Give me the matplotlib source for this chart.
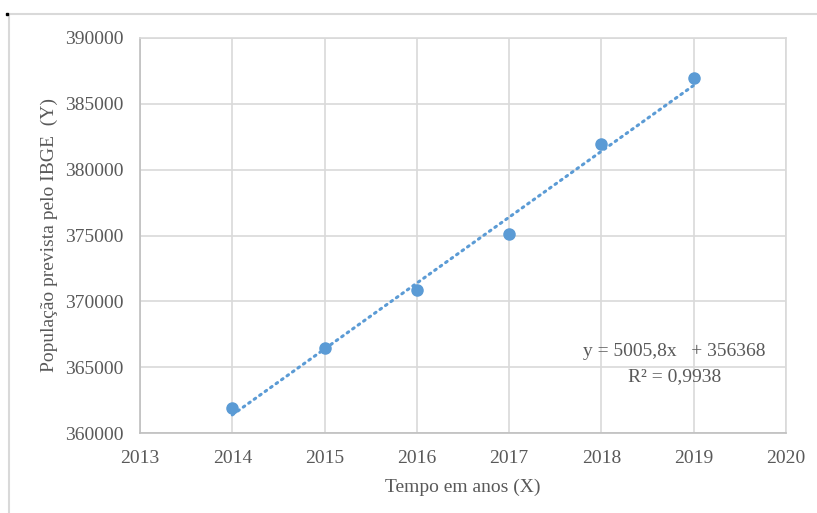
import matplotlib.pyplot as plt
from matplotlib.lines import Line2D

# dados
anos = [2014, 2015, 2016, 2017, 2018, 2019]
populacao = [361900, 366450, 370850, 375100, 381950, 386950]
x_ticks = [2013, 2014, 2015, 2016, 2017, 2018, 2019, 2020]
y_ticks = [360000, 365000, 370000, 375000, 380000, 385000, 390000]
# linha de tendência (x = 1..6)
coef_a = 5005.8
coef_b = 356368
texto_eq = "y = 5005,8x   + 356368"
texto_r2 = "R² = 0,9938"

azul = '#5b9bd5'
cinza_txt = '#595959'
cinza_grade = '#d9d9d9'

plt.rcParams['font.family'] = ['Liberation Serif', 'DejaVu Serif']

fig = plt.figure(figsize=(8.17, 5.13), dpi=100)
ax = fig.add_axes([140 / 817, 1 - 433 / 513, (786 - 140) / 817, (433 - 38) / 513])

# tendência
idx = range(1, len(anos) + 1)
tend = [coef_a * i + coef_b for i in idx]
ax.plot(anos, tend, color=azul, linestyle=(0, (0.6, 1.6)), linewidth=2.2,
        dash_capstyle='round', zorder=2)

# pontos
ax.plot(anos, populacao, 'o', color=azul, markersize=8, zorder=3)

ax.set_xlim(2013, 2020)
ax.set_ylim(360000, 390000)
ax.set_xticks(x_ticks)
ax.set_yticks(y_ticks)
ax.set_xticklabels([str(v) for v in x_ticks])
ax.set_yticklabels([str(v) for v in y_ticks])
ax.tick_params(length=0, labelsize=14, colors=cinza_txt)
ax.tick_params(axis='y', pad=12)
ax.tick_params(axis='x', pad=12)
ax.grid(True, color=cinza_grade, linewidth=1.2)
ax.set_axisbelow(True)
for s in ax.spines.values():
    s.set_color(cinza_grade)
    s.set_linewidth(1.2)
ax.spines['left'].set_color('#bfbfbf')
ax.spines['bottom'].set_color('#bfbfbf')

ax.set_xlabel("Tempo em anos (X)", fontsize=14, color=cinza_txt, labelpad=9)
ax.set_ylabel("População prevista pelo IBGE  (Y)", fontsize=14, color=cinza_txt, labelpad=5)

# equação
fig.text(674 / 817, 1 - 352 / 513, texto_eq, ha='center', va='center', fontsize=14, color=cinza_txt)
fig.text(675 / 817, 1 - 377 / 513, texto_r2, ha='center', va='center', fontsize=14, color=cinza_txt)

# moldura externa
fig.add_artist(Line2D([9 / 817, 1], [1 - 14 / 513, 1 - 14 / 513], color=cinza_grade, linewidth=1.5,
                      transform=fig.transFigure))
fig.add_artist(Line2D([9 / 817, 9 / 817], [0, 1 - 14 / 513], color=cinza_grade, linewidth=1.5,
                      transform=fig.transFigure))
fig.add_artist(Line2D([7 / 817], [1 - 14 / 513], marker='s', markersize=1.5, color='black',
                      transform=fig.transFigure))

plt.savefig('out.png', dpi=100)
